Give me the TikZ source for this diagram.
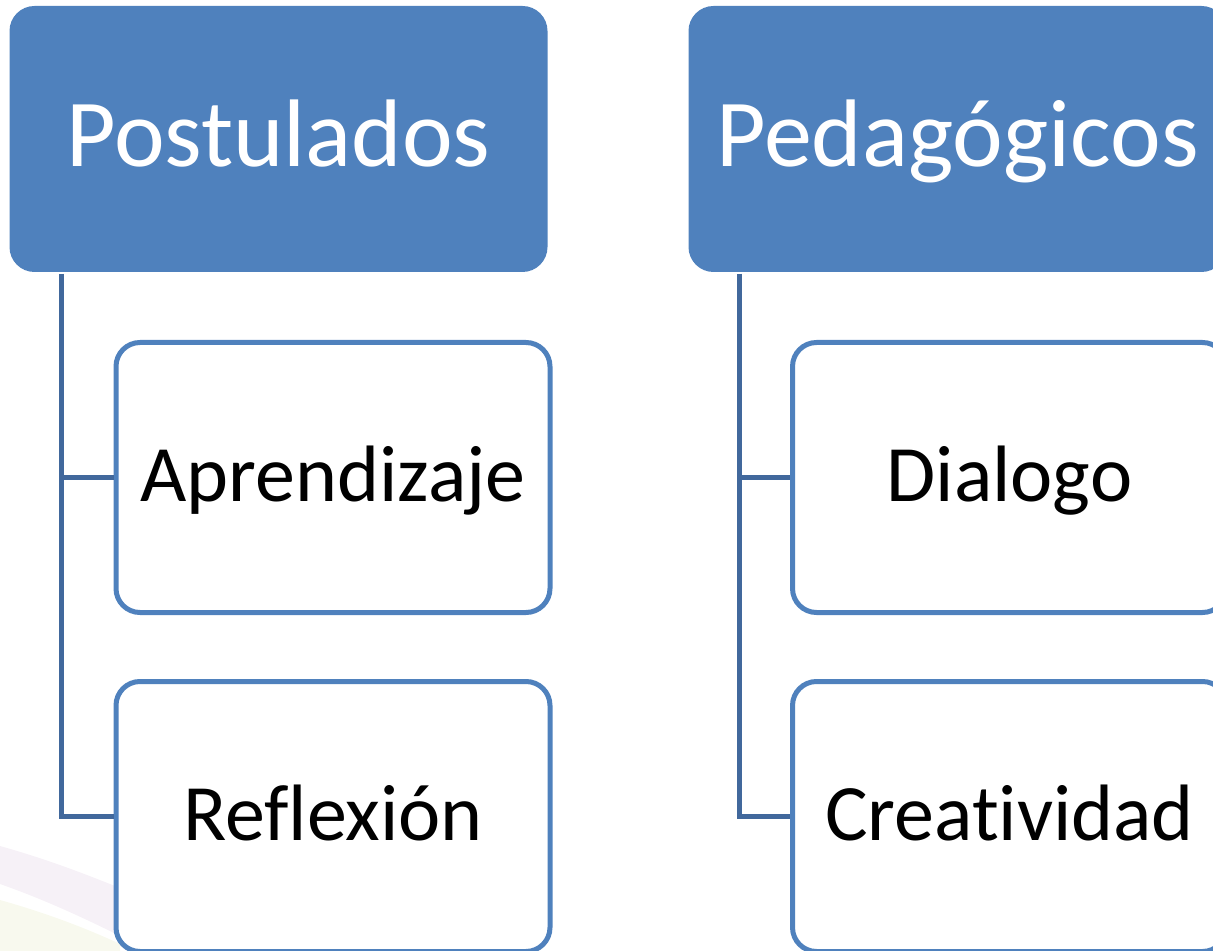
\documentclass[tikz,border=0pt]{standalone}
\usepackage{fontspec}
\setmainfont[Ligatures=NoCommon]{Carlito}
\usetikzlibrary{positioning}
\definecolor{headblue}{HTML}{4F81BD}
\definecolor{trunkblue}{HTML}{41689C}
\definecolor{swooshlilac}{HTML}{F6F1F7}
\definecolor{swooshlime}{HTML}{F8F9EE}

\begin{document}
\begin{tikzpicture}[x=0.5pt,y=-0.5pt,
  head/.style={fill=headblue,rounded corners=12.5pt,minimum width=269pt,
    minimum height=133pt,text=white,inner sep=0pt,
    text height=34.5pt,text depth=7.2pt,
    font=\fontsize{48}{58}\selectfont},
  item/.style={draw=headblue,line width=2.5pt,fill=white,rounded corners=12pt,
    minimum width=217pt,minimum height=135pt,inner sep=0pt,
    text height=29.6pt,text depth=6pt,
    font=\fontsize{40}{48}\selectfont},
  branch/.style={draw=trunkblue,line width=2.25pt}]
\useasboundingbox (0,0) rectangle (1213,951);
% faint slide background
\fill[swooshlilac] (0,846) .. controls (50,860) and (90,876) .. (120,888)
  -- (120,936) .. controls (80,916) and (40,898) .. (0,884) -- cycle;
\fill[swooshlime] (0,900) .. controls (50,914) and (90,930) .. (120,944)
  -- (120,951) -- (0,951) -- cycle;
% headers
\node[head] (postulados) at (278.5,139) {Postulados};
\node[head] (pedagogicos) at (957.5,139) {Pedagógicos};
% children
\node[item] (aprendizaje) at (333,477.5) {Aprendizaje};
\node[item] (reflexion) at (333,816.5) {Reflexión};
\node[item] (dialogo) at (1009.5,477.5) {Dialogo};
\node[item] (creatividad) at (1009.5,816.5) {Creatividad};
% trunks
\coordinate (ltrunk) at (61.5,274);
\coordinate (rtrunk) at (739.5,274);
\draw[branch] (ltrunk) |- (aprendizaje.west);
\draw[branch] (ltrunk) |- (reflexion.west);
\draw[branch] (rtrunk) |- (dialogo.west);
\draw[branch] (rtrunk) |- (creatividad.west);
\end{tikzpicture}
\end{document}
